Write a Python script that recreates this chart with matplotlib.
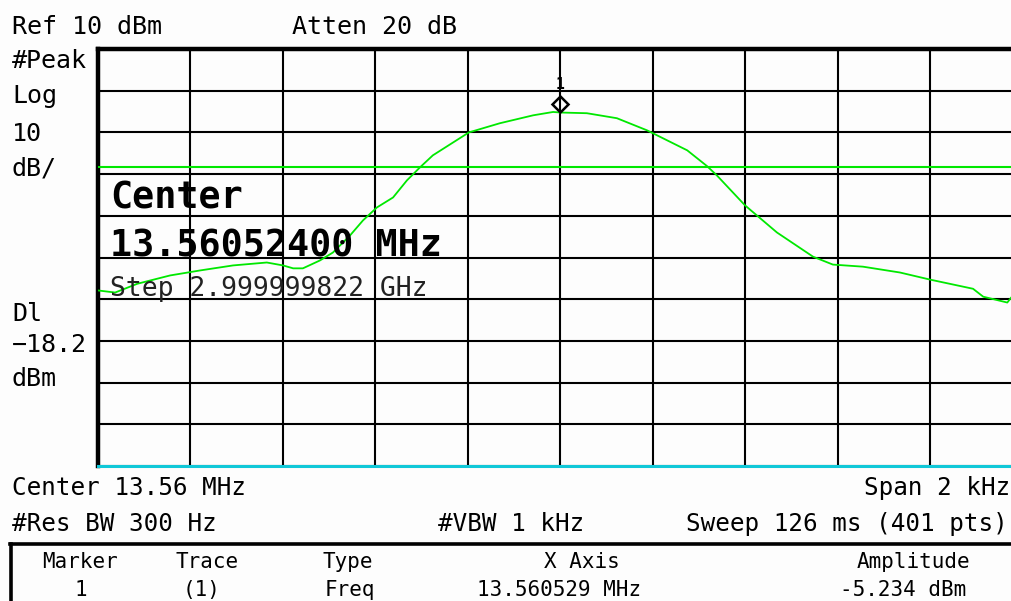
import matplotlib
matplotlib.use("Agg")
import matplotlib.pyplot as plt
import matplotlib.transforms as mtransforms

# trace: offset from center (Hz), level (dBm)
freq_hz = [-1000, -963, -915, -844, -779, -708, -635, -600, -578, -557,
           -520, -492, -455, -427, -397, -362, -332, -304, -276, -198,
           -131, -59, -16, 0, 57, 122, 187, 274, 317, 338,
           399, 468, 546, 589, 654, 734, 799, 892, 914, 966, 976]
level_dbm = [-47.9, -48.4, -46.3, -44.3, -43.1, -41.9, -41.2, -41.9, -42.6, -42.6,
             -40.7, -38.8, -34.7, -31.1, -28.0, -25.6, -21.5, -18.4, -15.5, -10.0,
             -7.8, -5.9, -5.1, -5.234, -5.4, -6.6, -9.5, -14.3, -18.1, -20.3,
             -27.5, -34.0, -39.8, -41.7, -42.2, -43.6, -45.3, -47.5, -49.4, -50.8, -49.4]

ref_level = 10
db_per_div = 10
span_hz = 2000
display_line = -18.2
marker_freq = 0
marker_amp = -5.234

left_labels = ["#Peak", "Log", "10", "dB/", "Dl", "\u221218.2", "dBm"]
table_head = ["Marker", "Trace", "Type", "X Axis", "Amplitude"]
table_row = ["1", "(1)", "Freq", "13.560529 MHz", "-5.234 dBm"]

W, H = 1012, 601
fig = plt.figure(figsize=(W / 100, H / 100), dpi=100)
fig.patch.set_facecolor("#fdfdfd")
mono = "DejaVu Sans Mono"


def px(x, y):
    return x / W, 1 - y / H


ax = fig.add_axes([98 / W, 1 - 466 / H, 925 / W, 417 / H])
ax.set_facecolor("#fdfdfd")
ax.set_xlim(-span_hz / 2, span_hz / 2)
ax.set_ylim(ref_level - 10 * db_per_div, ref_level)
ax.set_xticks([-span_hz / 2 + i * span_hz / 10 for i in range(11)])
ax.set_yticks([ref_level - i * db_per_div for i in range(11)])
ax.tick_params(length=0, labelbottom=False, labelleft=False)
ax.grid(True, color="black", lw=1.5)
ax.set_axisbelow(True)
ax.spines["top"].set_linewidth(3.2)
ax.spines["left"].set_linewidth(3.2)
ax.spines["right"].set_visible(False)
ax.spines["bottom"].set_color("#10c8d8")
ax.spines["bottom"].set_linewidth(2.2)

ax.axhline(display_line, color="#00e800", lw=1.5, zorder=3)
ax.plot(freq_hz, level_dbm, color="#00e800", lw=1.3, zorder=4)

up = mtransforms.offset_copy(ax.transData, fig=fig, x=0, y=9, units="dots")
ax.plot([marker_freq], [marker_amp], marker="D", ms=8, mfc="none", mec="black",
        mew=1.8, transform=up, zorder=5, clip_on=False)
up2 = mtransforms.offset_copy(ax.transData, fig=fig, x=0, y=28, units="dots")
ax.text(marker_freq, marker_amp, "1", transform=up2, ha="center", va="center",
        fontsize=10.5, fontweight="bold", family=mono)

# overlay text inside the graticule
fig.text(*px(110, 198), "Center", family=mono, fontsize=26.5, va="center", ha="left",
         fontweight="bold")
fig.text(*px(110, 246), "13.56052400 MHz", family=mono, fontsize=26.5, va="center",
         ha="left", fontweight="bold")
fig.text(*px(110, 289), "Step 2.999999822 GHz", family=mono, fontsize=19, va="center",
         ha="left", color="#222222")

# header and side annotations
fig.text(*px(12, 27), "Ref 10 dBm", family=mono, fontsize=18, va="center")
fig.text(*px(292, 27), "Atten 20 dB", family=mono, fontsize=18, va="center")
for lab, y in zip(left_labels, [61, 96, 134, 168, 314, 345, 379]):
    fig.text(*px(12, y), lab, family=mono, fontsize=18, va="center")

fig.text(*px(12, 488), "Center 13.56 MHz", family=mono, fontsize=17.5, va="center")
fig.text(*px(1010, 488), "Span 2 kHz", family=mono, fontsize=17.5, va="center", ha="right")
fig.text(*px(12, 524), "#Res BW 300 Hz", family=mono, fontsize=17.5, va="center")
fig.text(*px(438, 524), "#VBW 1 kHz", family=mono, fontsize=17.5, va="center")
fig.text(*px(1008, 524), "Sweep 126 ms (401 pts)", family=mono, fontsize=17.5,
         va="center", ha="right")

# marker table
fig.add_artist(plt.Line2D([10 / W, 1], [1 - 544 / H] * 2, color="black", lw=2.6))
fig.add_artist(plt.Line2D([11.5 / W] * 2, [1 - 544 / H, 0], color="black", lw=2.6))
col_x = [80, 207, 348, 582, 913]
val_x = [81, 202, 350, 559, 903]
for h, v, cx, vx in zip(table_head, table_row, col_x, val_x):
    fig.text(*px(cx, 562), h, family=mono, fontsize=15, va="center", ha="center")
    fig.text(*px(vx, 590), v, family=mono, fontsize=15, va="center", ha="center")

fig.savefig("out.png", dpi=100, facecolor=fig.get_facecolor())
